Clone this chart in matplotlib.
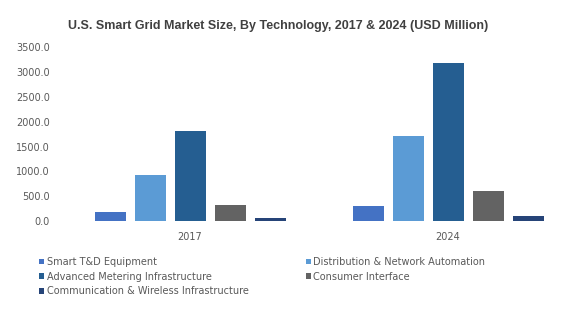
import matplotlib
matplotlib.use("Agg")
import matplotlib.pyplot as plt
from matplotlib.patches import Patch
import numpy as np

years = ["2017", "2024"]
segments = [
    "Smart T&D Equipment",
    "Distribution & Network Automation",
    "Advanced Metering Infrastructure",
    "Consumer Interface",
    "Communication & Wireless Infrastructure",
]
values = {
    "Smart T&D Equipment": [190, 300],
    "Distribution & Network Automation": [925, 1710],
    "Advanced Metering Infrastructure": [1820, 3190],
    "Consumer Interface": [320, 600],
    "Communication & Wireless Infrastructure": [60, 100],
}
colors = ["#4472C4", "#5B9BD5", "#255E91", "#636363", "#264478"]
yticks = [0, 500, 1000, 1500, 2000, 2500, 3000, 3500]

plt.rcParams["font.family"] = ["DejaVu Sans"]
fig = plt.figure(figsize=(5.62, 3.22), dpi=100)
ax = fig.add_axes([61 / 562, (322 - 221) / 322, (562 - 61) / 562, (221 - 47.3) / 322])

x = np.arange(len(years))
pitch = 40 / 258
width = 31 / 258
handles = []
for i, (name, c) in enumerate(zip(segments, colors)):
    ax.bar(x + (i - 2) * pitch, values[name], width=width, color=c, label=name)
    handles.append(Patch(facecolor=c, label=name))

ax.set_xlim(-0.5, (562 - 190) / 258)
ax.set_ylim(0, 3500)
ax.set_yticks(yticks)
ax.set_yticklabels([f"{v:.1f}" for v in yticks])
ax.set_xticks(x)
ax.set_xticklabels(years)
for s in ax.spines.values():
    s.set_visible(False)
ax.tick_params(axis="both", length=0, labelsize=7, labelcolor="#595959")
ax.tick_params(axis="y", pad=8)
ax.tick_params(axis="x", pad=8)

fig.text(278.5 / 562, 1 - 25.5 / 322, "U.S. Smart Grid Market Size, By Technology, 2017 & 2024 (USD Million)",
         ha="center", va="center", fontsize=9, fontweight="bold", color="#404040",
         family="Liberation Sans")

order = [0, 2, 4, 1, 3]
leg = fig.legend([handles[i] for i in order], [segments[i] for i in order],
                 ncol=2, loc="upper left", bbox_to_anchor=(39 / 562, 1 - 257 / 322),
                 frameon=False, fontsize=7, handlelength=0.55, handleheight=0.55,
                 handletextpad=0.25, columnspacing=5.85, labelspacing=0.48,
                 borderpad=0, borderaxespad=0, labelcolor="#595959")

fig.savefig("out.png", dpi=100)
